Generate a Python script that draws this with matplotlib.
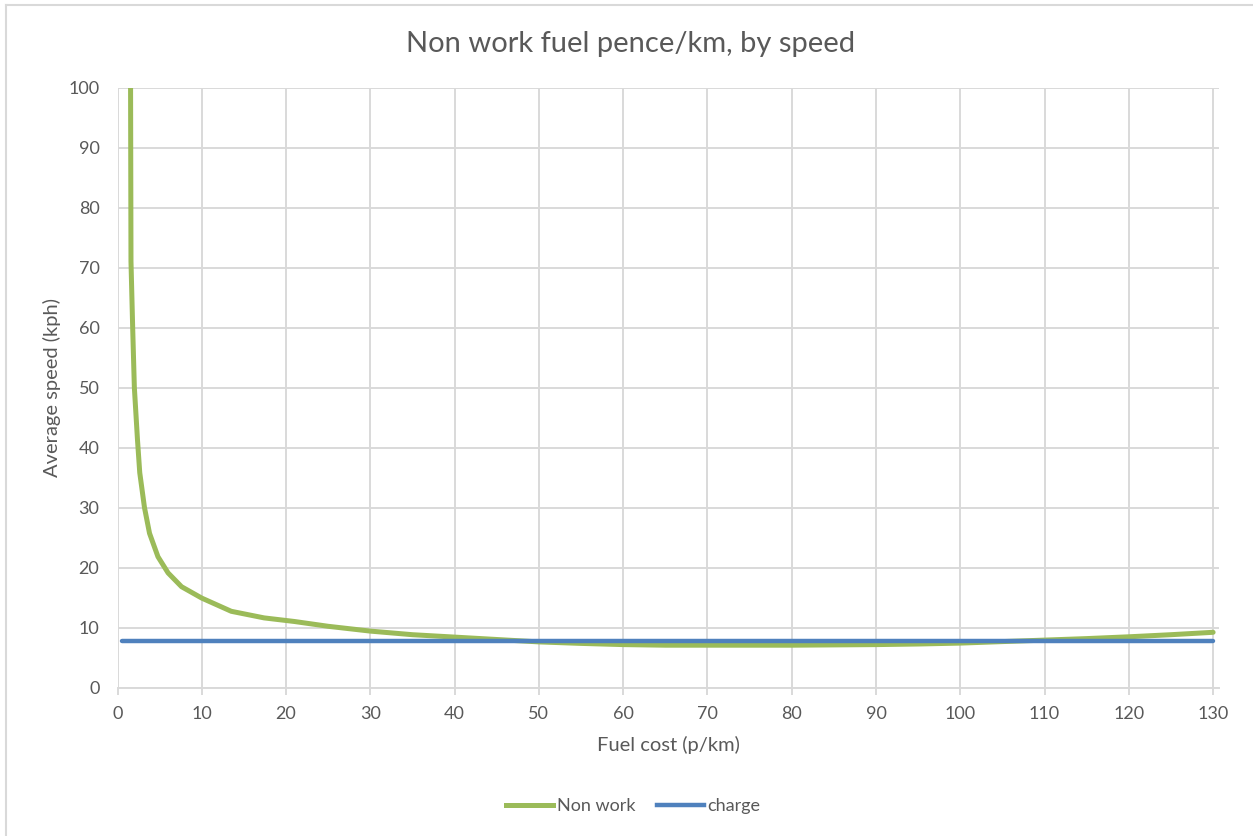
import matplotlib
matplotlib.use("Agg")
import matplotlib.pyplot as plt
from matplotlib.lines import Line2D

# values
speed = [1.5, 1.6, 1.8, 2.0, 2.37, 2.64, 3.2, 3.8, 4.8, 6.0, 7.6, 10, 13.5, 17.4,
         21, 25, 30, 35, 40, 45, 50, 55, 60, 65, 70, 75, 80, 85, 90, 95, 100,
         105, 110, 115, 120, 125, 130]
non_work = [130, 71, 60, 50, 41.3, 35.8, 30, 25.7, 21.8, 19.1, 16.8, 14.9, 12.7, 11.6,
            11.0, 10.2, 9.4, 8.8, 8.4, 8.0, 7.6, 7.35, 7.15, 7.05, 7.05, 7.05, 7.05,
            7.1, 7.15, 7.25, 7.4, 7.65, 7.9, 8.15, 8.45, 8.8, 9.2]
charge_x = [0.5, 130]
charge_y = [7.7, 7.7]

green = '#9BBB59'
blue = '#4F81BD'
grey_txt = '#595959'
grid_c = '#D9D9D9'

plt.rcParams['font.family'] = ['Lato', 'DejaVu Sans']

fig = plt.figure(figsize=(12.53, 8.36), dpi=100)
ax = fig.add_axes([117.5/1253, 1-687.5/836, (1219-117.5)/1253, 600/836])

ax.plot(speed, non_work, color=green, lw=3.6, solid_capstyle='round', solid_joinstyle='round', zorder=3)
ax.plot(charge_x, charge_y, color=blue, lw=3.2, solid_capstyle='round', zorder=4)

ax.set_xlim(0, 130.7)
ax.set_ylim(0, 100)
ax.set_xticks(range(0, 131, 10))
ax.set_yticks(range(0, 101, 10))
ax.grid(True, color=grid_c, lw=1.4)
ax.set_axisbelow(True)
for s in ['top', 'right', 'left']:
    ax.spines[s].set_visible(False)
ax.spines['bottom'].set_color(grid_c)
ax.spines['bottom'].set_linewidth(1.4)
ax.tick_params(axis='x', colors=grid_c, length=5, width=1.4, labelcolor=grey_txt, labelsize=13, pad=8)
ax.tick_params(axis='y', length=0, labelcolor=grey_txt, labelsize=13, pad=13)

ax.set_xlabel('Fuel cost (p/km)', color=grey_txt, fontsize=14.5, labelpad=10)
ax.set_ylabel('Average speed (kph)', color=grey_txt, fontsize=14.5, labelpad=5)
fig.text(0.503, 1-52/836, 'Non work fuel pence/km, by speed', ha='center', va='baseline',
         color=grey_txt, fontsize=21)

handles = [Line2D([], [], color=green, lw=3.6), Line2D([], [], color=blue, lw=3.2)]
fig.legend(handles, ['Non work', 'charge'], loc='center', bbox_to_anchor=(0.5056, 1-806/836),
           ncol=2, frameon=False, handlelength=2.6, handletextpad=0.2, columnspacing=1.2,
           fontsize=13, labelcolor=grey_txt)

# chart area border (left and top only visible)
fig.add_artist(plt.Line2D([6/1253, 6/1253], [0, 1-5/836], color=grid_c, lw=1.5))
fig.add_artist(plt.Line2D([6/1253, 1], [1-5/836, 1-5/836], color=grid_c, lw=1.5))

fig.savefig('out.png', dpi=100, facecolor='white')
